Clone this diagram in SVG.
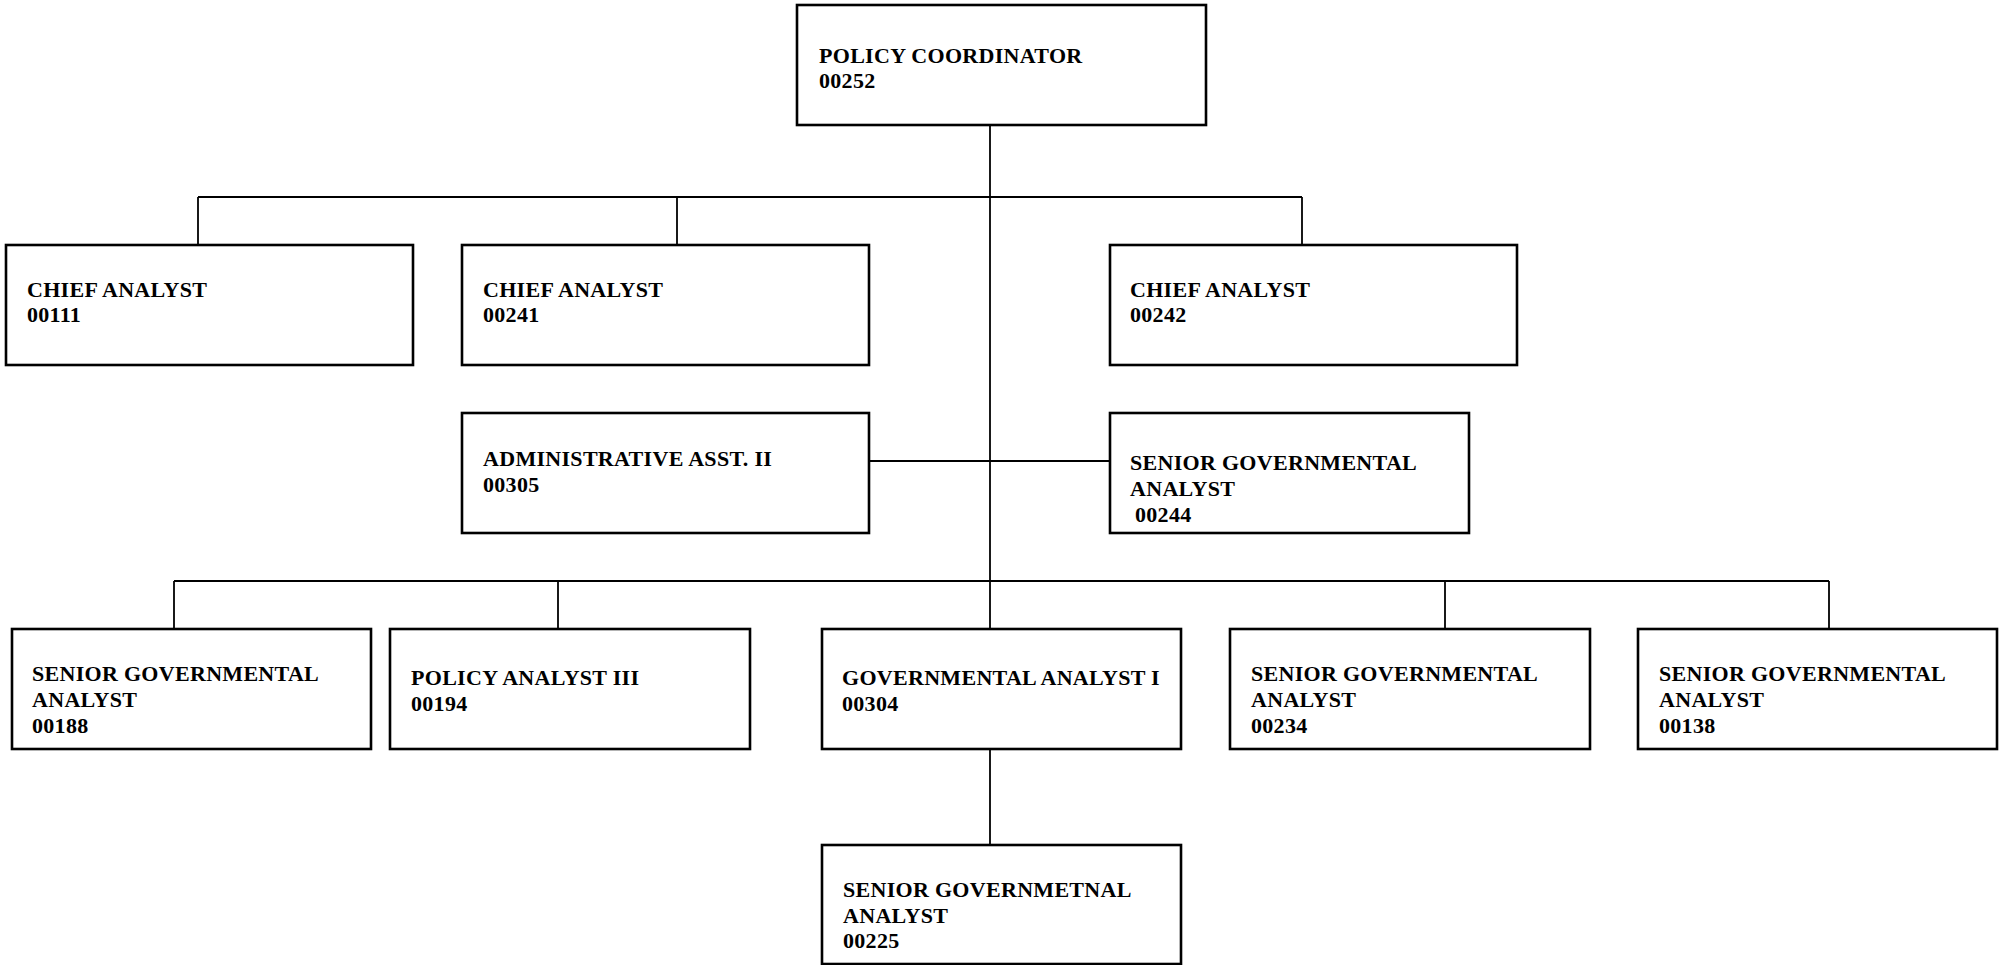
<svg xmlns="http://www.w3.org/2000/svg" width="2007" height="965" viewBox="0 0 2007 965">
  <style>
    .box { fill: #ffffff; stroke: #000000; stroke-width: 2.6; }
    .wire { fill: none; stroke: #000000; stroke-width: 1.8; }
    text { font-family: "Liberation Serif", "Times New Roman", serif; font-weight: bold; font-size: 22px; letter-spacing: 0.3px; fill: #000000; }
  </style>
  <rect width="2007" height="965" fill="#ffffff"/>

  <!-- reporting lines -->
  <g id="connectors">
    <line class="wire" x1="990" y1="125" x2="990" y2="629"/>
    <line class="wire" x1="198" y1="197" x2="1302" y2="197"/>
    <line class="wire" x1="198" y1="197" x2="198" y2="245"/>
    <line class="wire" x1="677" y1="197" x2="677" y2="245"/>
    <line class="wire" x1="1302" y1="197" x2="1302" y2="245"/>
    <line class="wire" x1="869" y1="461" x2="1110" y2="461"/>
    <line class="wire" x1="174" y1="581" x2="1829" y2="581"/>
    <line class="wire" x1="174" y1="581" x2="174" y2="629"/>
    <line class="wire" x1="558" y1="581" x2="558" y2="629"/>
    <line class="wire" x1="1445" y1="581" x2="1445" y2="629"/>
    <line class="wire" x1="1829" y1="581" x2="1829" y2="629"/>
    <line class="wire" x1="990" y1="749" x2="990" y2="845"/>
  </g>

  <g id="policy-coordinator-00252">
    <rect class="box" x="797" y="5" width="409" height="120"/>
    <text x="819" y="63">POLICY COORDINATOR</text>
    <text x="819" y="88">00252</text>
  </g>

  <g id="chief-analyst-00111">
    <rect class="box" x="6" y="245" width="407" height="120"/>
    <text x="27" y="297">CHIEF ANALYST</text>
    <text x="27" y="322">00111</text>
  </g>
  <g id="chief-analyst-00241">
    <rect class="box" x="462" y="245" width="407" height="120"/>
    <text x="483" y="297">CHIEF ANALYST</text>
    <text x="483" y="322">00241</text>
  </g>
  <g id="chief-analyst-00242">
    <rect class="box" x="1110" y="245" width="407" height="120"/>
    <text x="1130" y="297">CHIEF ANALYST</text>
    <text x="1130" y="322">00242</text>
  </g>

  <g id="admin-asst-00305">
    <rect class="box" x="462" y="413" width="407" height="120"/>
    <text x="483" y="466">ADMINISTRATIVE ASST. II</text>
    <text x="483" y="492">00305</text>
  </g>
  <g id="senior-gov-analyst-00244">
    <rect class="box" x="1110" y="413" width="359" height="120"/>
    <text x="1130" y="470">SENIOR GOVERNMENTAL</text>
    <text x="1130" y="496">ANALYST</text>
    <text x="1135" y="522">00244</text>
  </g>

  <g id="senior-gov-analyst-00188">
    <rect class="box" x="12" y="629" width="359" height="120"/>
    <text x="32" y="681">SENIOR GOVERNMENTAL</text>
    <text x="32" y="707">ANALYST</text>
    <text x="32" y="733">00188</text>
  </g>
  <g id="policy-analyst-00194">
    <rect class="box" x="390" y="629" width="360" height="120"/>
    <text x="411" y="685">POLICY ANALYST III</text>
    <text x="411" y="711">00194</text>
  </g>
  <g id="gov-analyst-00304">
    <rect class="box" x="822" y="629" width="359" height="120"/>
    <text x="842" y="685">GOVERNMENTAL ANALYST I</text>
    <text x="842" y="711">00304</text>
  </g>
  <g id="senior-gov-analyst-00234">
    <rect class="box" x="1230" y="629" width="360" height="120"/>
    <text x="1251" y="681">SENIOR GOVERNMENTAL</text>
    <text x="1251" y="707">ANALYST</text>
    <text x="1251" y="733">00234</text>
  </g>
  <g id="senior-gov-analyst-00138">
    <rect class="box" x="1638" y="629" width="359" height="120"/>
    <text x="1659" y="681">SENIOR GOVERNMENTAL</text>
    <text x="1659" y="707">ANALYST</text>
    <text x="1659" y="733">00138</text>
  </g>

  <g id="senior-gov-analyst-00225">
    <rect class="box" x="822" y="845" width="359" height="119"/>
    <text x="843" y="897">SENIOR GOVERNMETNAL</text>
    <text x="843" y="923">ANALYST</text>
    <text x="843" y="948">00225</text>
  </g>
</svg>
